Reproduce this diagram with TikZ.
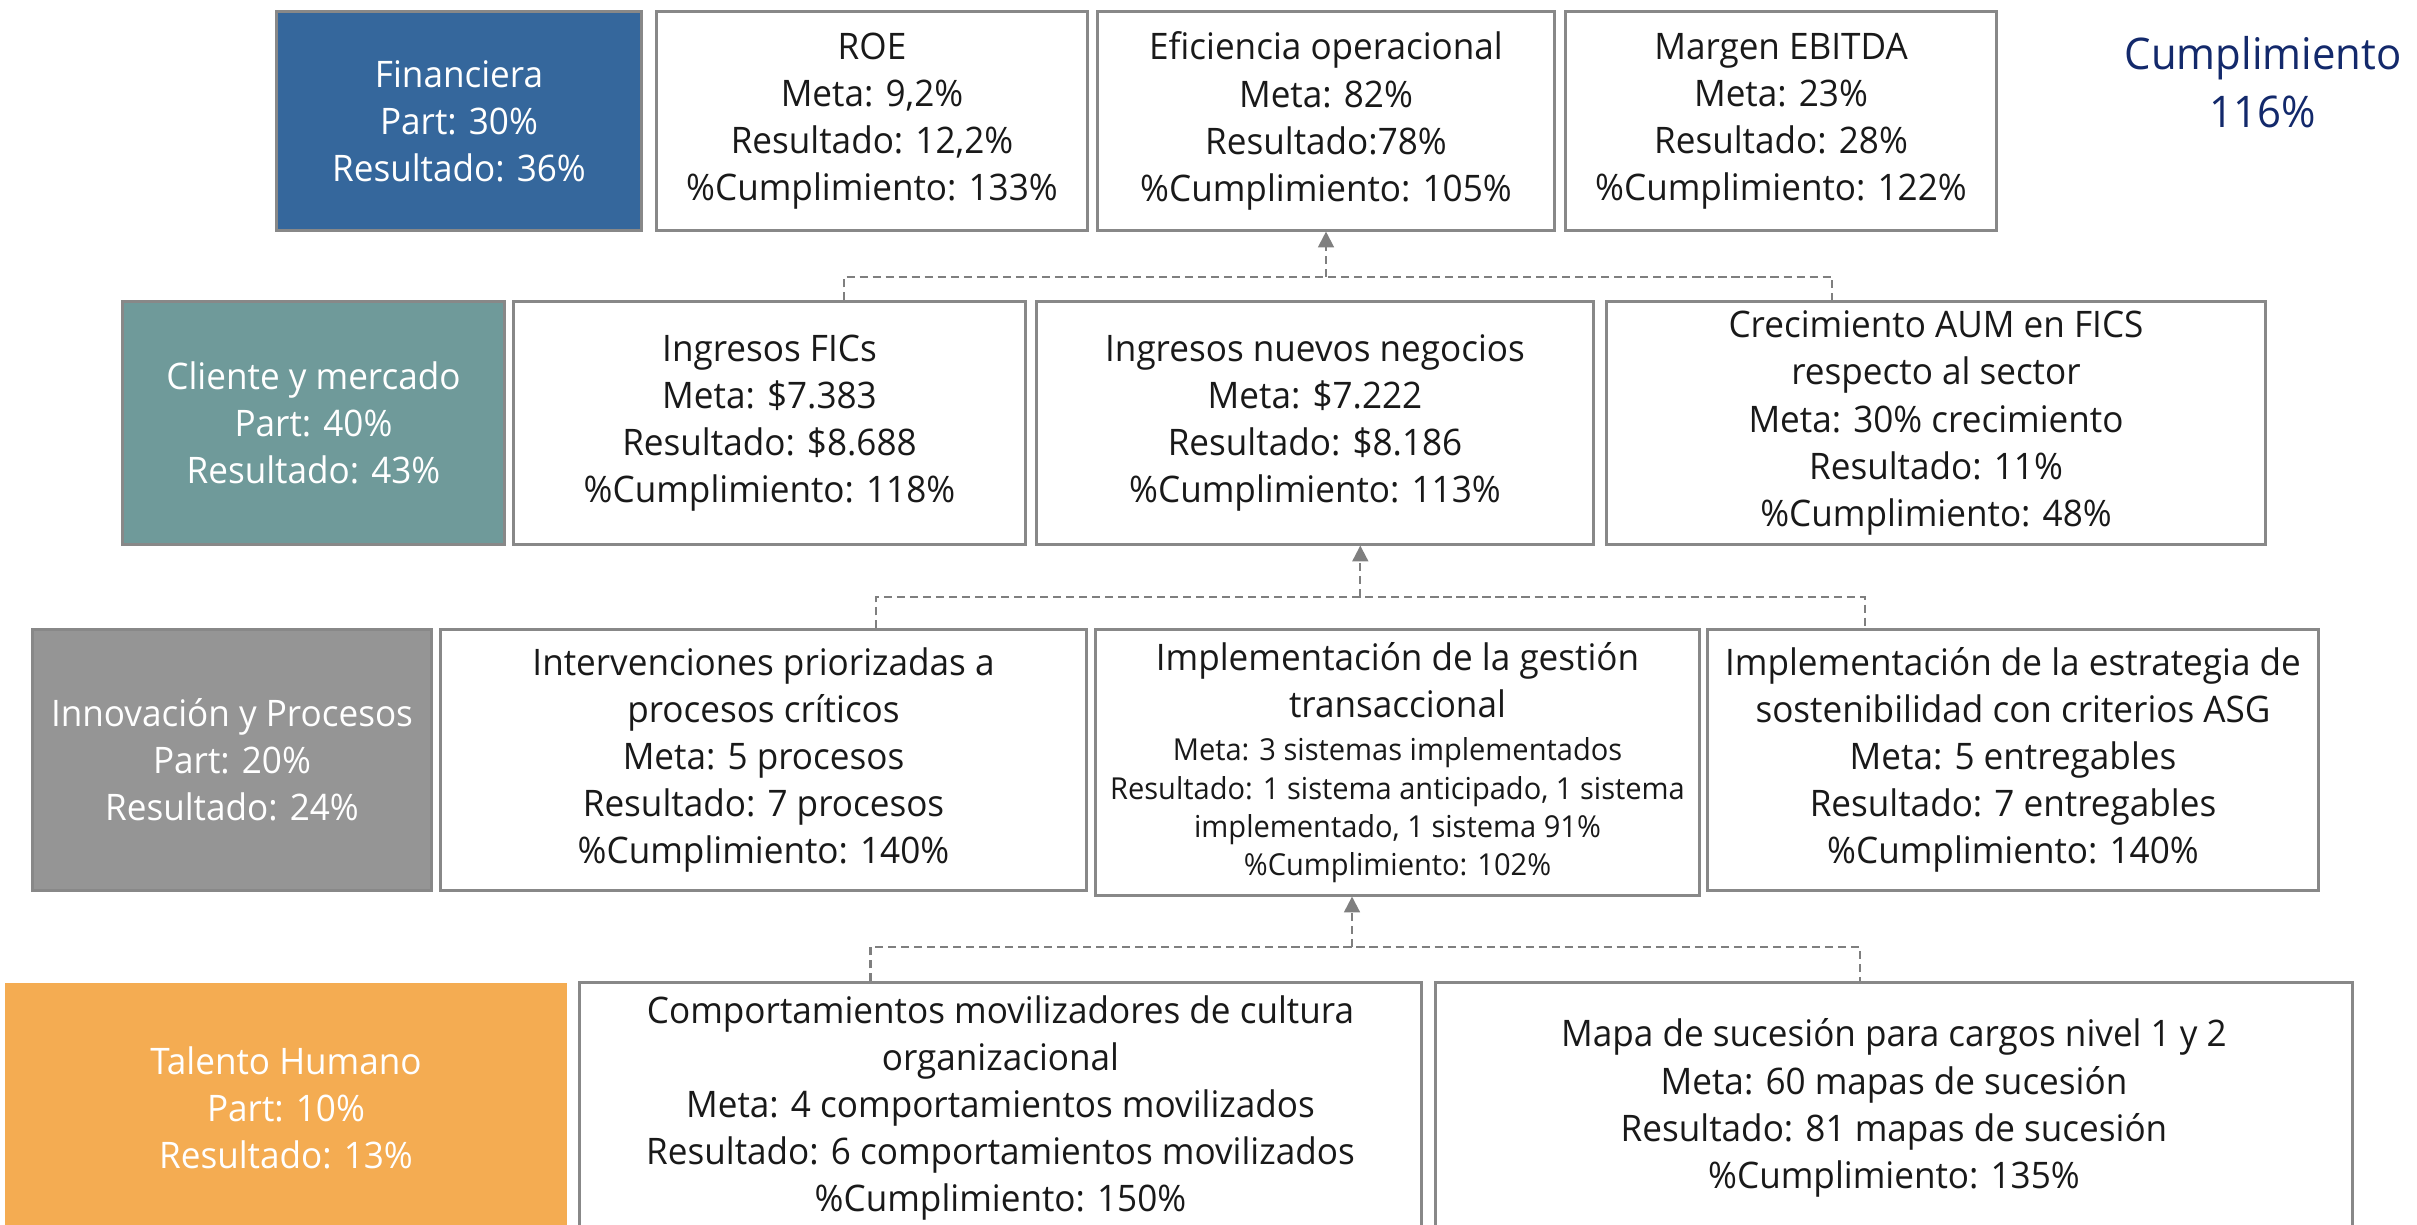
\documentclass[tikz,border=0pt]{standalone}
\usepackage{fontspec}
\setmainfont{Open Sans}[FakeStretch=0.96]
\usetikzlibrary{calc,arrows.meta}
\definecolor{finblue}{HTML}{35679C}
\definecolor{cliteal}{HTML}{6F9A9A}
\definecolor{innogray}{HTML}{959595}
\definecolor{talorange}{HTML}{F4AC52}
\definecolor{boxgray}{HTML}{888888}
\definecolor{linkgray}{HTML}{7F7F7F}
\definecolor{navy}{HTML}{13296B}
\newcommand{\sm}[1]{{\fontsize{8.6}{10.8}\selectfont #1}}

\begin{document}
\begin{tikzpicture}[x=0.01cm,y=-0.01cm,
	box/.style={draw=boxgray,line width=0.85pt,fill=white,inner sep=0pt,align=center,
		font=\fontsize{10.4}{13.4}\selectfont,text=black!90},
	area/.style={box,text=white},
	wh/.style 2 args={minimum width=#1cm,minimum height=#2cm},
	link/.style={linkgray,line width=0.6pt,dash pattern=on 2.3pt off 1.4pt},
	up/.style={link,-{Triangle[width=4.5pt,length=4.5pt]}}]
	\clip (0,0) rectangle (2417,1225);

	% fila 1
	\node[area,fill=finblue,wh={3.64}{2.18}] (fin) at (459,121) {Financiera\\Part: 30\%\\Resultado: 36\%};
	\node[box,wh={4.30}{2.18}] (roe) at (872,121) {ROE\\Meta: 9,2\%\\Resultado: 12,2\%\\\%Cumplimiento: 133\%};
	\node[box,wh={4.56}{2.18}] (efi) at (1326,121) {Eficiencia operacional\\Meta: 82\%\\Resultado:78\%\\\%Cumplimiento: 105\%};
	\node[box,wh={4.30}{2.18}] (ebitda) at (1781,121) {Margen EBITDA\\Meta: 23\%\\Resultado: 28\%\\\%Cumplimiento: 122\%};
	\node[align=center,text=navy,font=\fontsize{12.4}{16.5}\selectfont] (cump) at (2263,82) {Cumplimiento\\116\%};

	% fila 2
	\node[area,fill=cliteal,wh={3.81}{2.42}] (cli) at (313.5,423) {Cliente y mercado\\Part: 40\%\\Resultado: 43\%};
	\node[box,wh={5.11}{2.42}] (fics) at (769.5,423) {Ingresos FICs\\Meta: \$7.383\\Resultado: \$8.688\\\%Cumplimiento: 118\%};
	\node[box,wh={5.56}{2.42}] (nuevos) at (1315,423) {Ingresos nuevos negocios\\Meta: \$7.222\\Resultado: \$8.186\\\%Cumplimiento: 113\%};
	\node[box,wh={6.58}{2.42}] (crec) at (1936,423) {Crecimiento AUM en FICS\\respecto al sector\\Meta: 30\% crecimiento\\Resultado: 11\%\\\%Cumplimiento: 48\%};

	% fila 3
	\node[area,fill=innogray,wh={3.98}{2.60}] (inn) at (232,760) {Innovación y Procesos\\Part: 20\%\\Resultado: 24\%};
	\node[box,wh={6.45}{2.60}] (interv) at (763.5,760) {Intervenciones priorizadas a\\procesos críticos\\Meta: 5 procesos\\Resultado: 7 procesos\\\%Cumplimiento: 140\%};
	\node[box,wh={6.03}{2.65}] (trans) at (1397.5,762.5) {Implementación de la gestión\\transaccional\\[-1pt]
		\sm{Meta: 3 sistemas implementados}\\[-2.5pt]\sm{Resultado: 1 sistema anticipado, 1 sistema}\\[-2.5pt]
		\sm{implementado, 1 sistema 91\%}\\[-2.5pt]\sm{\%Cumplimiento: 102\%}};
	\node[box,wh={6.10}{2.60}] (asg) at (2013,760) {Implementación de la estrategia de\\sostenibilidad con criterios ASG\\Meta: 5 entregables\\Resultado: 7 entregables\\\%Cumplimiento: 140\%};

	% fila 4
	\node[area,draw=none,fill=talorange,wh={5.62}{2.50}] (tal) at (286,1108) {Talento Humano\\Part: 10\%\\Resultado: 13\%};
	\node[box,wh={8.41}{2.50}] (comp) at (1000.5,1108) {Comportamientos movilizadores de cultura\\organizacional\\Meta: 4 comportamientos movilizados\\Resultado: 6 comportamientos movilizados\\\%Cumplimiento: 150\%};
	\node[box,wh={9.16}{2.50}] (mapa) at (1894,1108) {Mapa de sucesión para cargos nivel 1 y 2\\Meta: 60 mapas de sucesión\\Resultado: 81 mapas de sucesión\\\%Cumplimiento: 135\%};

	% conectores
	\coordinate (j1) at (efi.south |- 0,277);
	\draw[link] ($(fics.north west)!.645!(fics.north east)$) |- (j1) -| ($(crec.north west)!.343!(crec.north east)$);
	\draw[up] (j1) -- (efi.south);

	\coordinate (a2) at ($(nuevos.south west)!.581!(nuevos.south east)$);
	\coordinate (j2) at (a2 |- 0,597);
	\draw[link] ($(interv.north west)!.674!(interv.north east)$) |- (j2) -| ($(asg.north west)!.259!(asg.north east)$);
	\draw[up] (j2) -- (a2);

	\coordinate (a3) at ($(trans.south west)!.425!(trans.south east)$);
	\coordinate (j3) at (a3 |- 0,947);
	\draw[link] ($(comp.north west)!.346!(comp.north east)$) |- (j3) -| ($(mapa.north west)!.463!(mapa.north east)$);
	\draw[up] (j3) -- (a3);
\end{tikzpicture}
\end{document}
